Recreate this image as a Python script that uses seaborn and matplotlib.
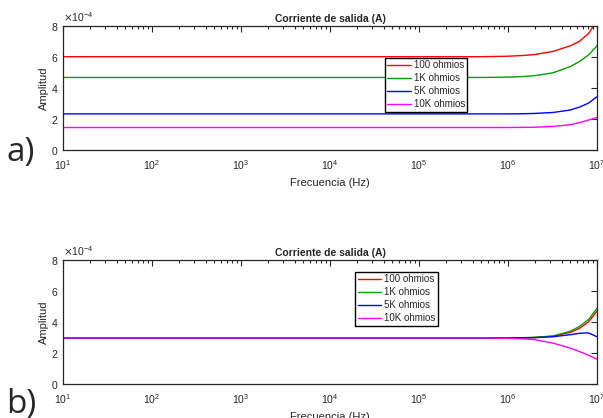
import numpy as np
import pandas as pd
import matplotlib
matplotlib.use("Agg")
import matplotlib.pyplot as plt
import seaborn as sns
from matplotlib.ticker import ScalarFormatter, LogLocator, FixedLocator

# ---- data (amplitudes in units of 1e-4 A) ----
freqs = [1e1, 5e5, 1e6, 1.5e6, 2e6, 3.2e6, 5e6, 6.3e6, 8e6, 1e7]
labels = ["100 ohmios", "1K ohmios", "5K ohmios", "10K ohmios"]

red_a = [6.02, 6.02, 6.05, 6.10, 6.16, 6.36, 6.72, 7.00, 7.50, 8.35]
green_a = [4.68, 4.68, 4.70, 4.74, 4.80, 4.98, 5.38, 5.70, 6.12, 6.72]
blue_a = [2.33, 2.33, 2.33, 2.34, 2.36, 2.42, 2.58, 2.76, 3.02, 3.44]
mag_a = [1.45, 1.45, 1.45, 1.46, 1.47, 1.52, 1.63, 1.76, 1.93, 2.10]

red_b = [2.97, 2.97, 2.97, 2.98, 3.00, 3.08, 3.33, 3.58, 4.00, 4.70]
green_b = [2.97, 2.97, 2.97, 2.99, 3.01, 3.10, 3.40, 3.70, 4.15, 4.88]
blue_b = [2.97, 2.97, 2.97, 2.98, 2.99, 3.05, 3.18, 3.27, 3.30, 3.05]
mag_b = [2.97, 2.97, 2.95, 2.91, 2.86, 2.64, 2.32, 2.10, 1.86, 1.60]

title = "Corriente de salida (A)"
xlabel = "Frecuencia (Hz)"
ylabel = "Amplitud"
yticks = [0, 2, 4, 6, 8]
colors = ["#ff0000", "#00a000", "#0000ff", "#ff00ff"]

sns.set_theme(style="white")
plt.rcParams["font.family"] = ["Liberation Sans", "DejaVu Sans"]
plt.rcParams["axes.unicode_minus"] = True

fig = plt.figure(figsize=(6.03, 4.18), dpi=100)
axA = fig.add_axes([63/603, 1-150/418, 534/603, 124/418])
axB = fig.add_axes([63/603, 1-384/418, 534/603, 124/418])

gray = "#262626"

def style(ax, series, leg_anchor):
    for vals, lab, c in zip(series, labels, colors):
        df = pd.DataFrame({"f": freqs, "amp": np.array(vals) * 1e-4})
        sns.lineplot(data=df, x="f", y="amp", color=c, label=lab, ax=ax,
                     linewidth=1.0)
    ax.set_xscale("log")
    ax.set_xlim(1e1, 1e7)
    ax.set_ylim(0, 8e-4)
    ax.yaxis.set_major_locator(FixedLocator([v * 1e-4 for v in yticks]))
    fmt = ScalarFormatter(useMathText=True)
    fmt.set_powerlimits((0, 0))
    ax.yaxis.set_major_formatter(fmt)
    ax.yaxis.get_offset_text().set_fontsize(7.5)
    ax.yaxis.get_offset_text().set_color(gray)
    ax.xaxis.set_major_locator(LogLocator(base=10, numticks=20))
    ax.xaxis.set_minor_locator(LogLocator(base=10, subs=np.arange(2, 10), numticks=20))
    ax.tick_params(which="both", direction="in", top=True, right=True,
                   colors=gray, labelsize=7.5, width=0.8)
    ax.tick_params(which="major", length=4)
    ax.tick_params(which="minor", length=2.5)
    ax.tick_params(axis="x", pad=6)
    for s in ax.spines.values():
        s.set_color(gray)
        s.set_linewidth(0.9)
        s.set_visible(True)
    ax.set_title(title, fontsize=7.5, fontweight="bold", pad=3)
    ax.set_xlabel(xlabel, fontsize=8, color=gray, labelpad=4)
    ax.set_ylabel(ylabel, fontsize=8, color=gray, labelpad=1)
    leg = ax.legend(loc="upper left", bbox_to_anchor=leg_anchor, fontsize=7,
                    frameon=True, fancybox=False, edgecolor="black",
                    framealpha=1, borderpad=0.25, labelspacing=0.3,
                    handlelength=2.4, handletextpad=0.3, borderaxespad=0)
    leg.get_frame().set_linewidth(1.0)

style(axA, [red_a, green_a, blue_a, mag_a], (0.603, 0.742))
style(axB, [red_b, green_b, blue_b, mag_b], (0.547, 0.903))

fig.text(6/603, 1-161/418, "a)", fontsize=24, family=["Open Sans", "DejaVu Sans"],
         ha="left", va="baseline")
fig.text(6/603, 1-413/418, "b)", fontsize=24, family=["Open Sans", "DejaVu Sans"],
         ha="left", va="baseline")

fig.savefig("out.png", dpi=100)
